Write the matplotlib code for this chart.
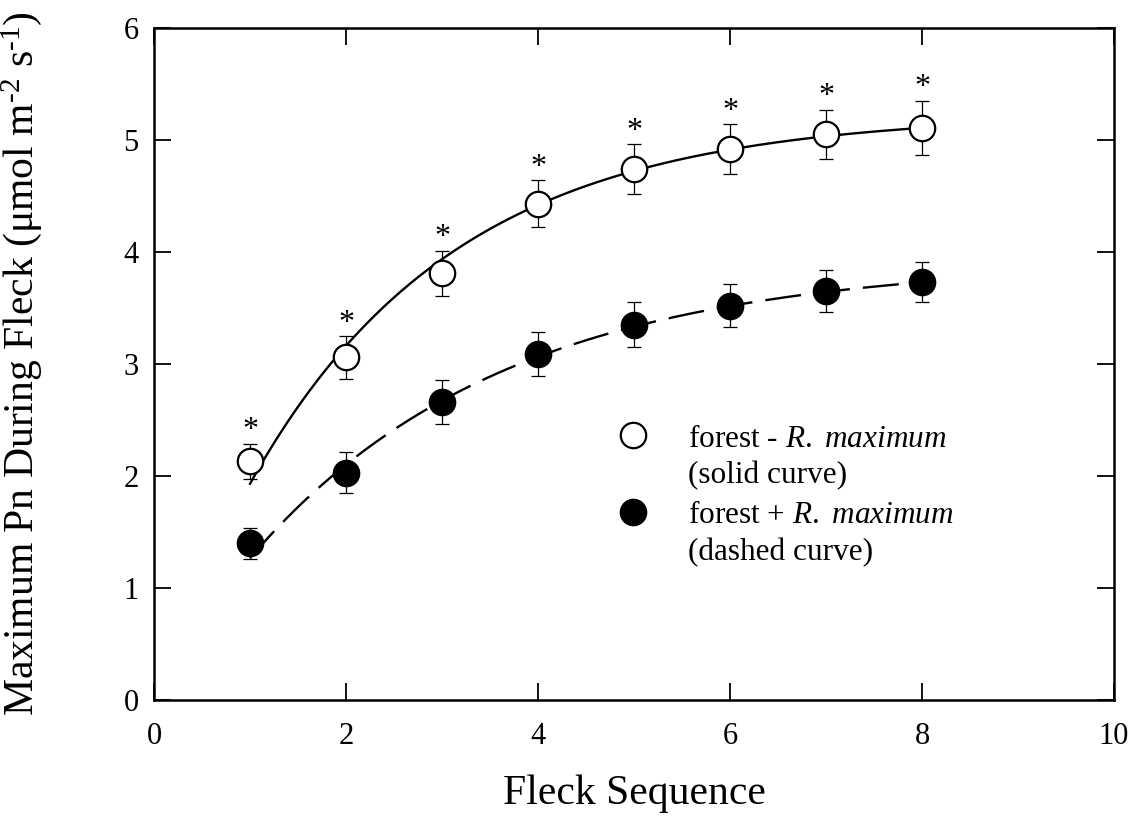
import numpy as np
import matplotlib
matplotlib.use("Agg")
import matplotlib.pyplot as plt

plt.rcParams['font.family'] = ['Liberation Serif', 'DejaVu Serif']
plt.rcParams['mathtext.fontset'] = 'custom'
plt.rcParams['mathtext.rm'] = 'Liberation Serif'
plt.rcParams['mathtext.it'] = 'Liberation Serif:italic'

# ---- data ----
fleck = [1, 2, 3, 4, 5, 6, 7, 8]
minus_mean = [2.13, 3.06, 3.81, 4.43, 4.74, 4.92, 5.05, 5.11]
minus_se = [0.16, 0.19, 0.20, 0.21, 0.22, 0.22, 0.22, 0.24]
plus_mean = [1.40, 2.03, 2.66, 3.09, 3.35, 3.52, 3.65, 3.73]
plus_se = [0.14, 0.18, 0.20, 0.20, 0.20, 0.19, 0.19, 0.18]
significant = [True, True, True, True, True, True, True, True]
# fitted curves y = A - B*exp(-k*x)
solid_fit = (5.234, 5.27, 0.467)
dashed_fit = (3.918, 3.869, 0.378)
x_ticks = [0, 2, 4, 6, 8, 10]
y_ticks = [0, 1, 2, 3, 4, 5, 6]

W, H = 1143, 825
fig = plt.figure(figsize=(W / 100, H / 100), dpi=100)
ax = fig.add_axes([154 / W, 1 - 700 / H, 960 / W, 672 / H])

xf = np.linspace(fleck[0], fleck[-1], 300)
def curve(p, x):
    A, B, k = p
    return A - B * np.exp(-k * x)

ax.plot(xf, curve(solid_fit, xf), color='black', lw=1.7, zorder=2)
ax.plot(xf, curve(dashed_fit, xf), color='black', lw=1.7, zorder=2,
        dashes=(26 / 1.7, 9.4 / 1.7))

ekw = dict(fmt='none', ecolor='black', elinewidth=0.9, capsize=4.7, capthick=0.9, zorder=3)
ax.errorbar(fleck, minus_mean, yerr=minus_se, **ekw)
ax.errorbar(fleck, plus_mean, yerr=plus_se, **ekw)

MS = 18.3
ax.plot(fleck, minus_mean, 'o', ms=MS, mfc='white', mec='black', mew=1.6, ls='none', zorder=4)
ax.plot(fleck, plus_mean, 'o', ms=MS, mfc='black', mec='black', mew=1.6, ls='none', zorder=4)

for xi, m, s, sig in zip(fleck, minus_mean, minus_se, significant):
    if sig:
        ax.annotate('*', (xi, m + s + 0.21), xytext=(0, -13), textcoords='offset points',
                    ha='center', va='baseline', fontsize=23, zorder=5)

# legend (drawn manually)
ax.plot([4.99], [2.366], 'o', ms=MS, mfc='white', mec='black', mew=1.6, zorder=4)
ax.plot([4.99], [1.679], 'o', ms=MS, mfc='black', mec='black', mew=1.6, zorder=4)
tx = 5.5625
LF = 22.5
ax.text(tx, 2.259, r'forest - $\mathit{R.}$ $\mathit{maximum}$', fontsize=LF, va='baseline', ha='left')
ax.text(tx, 1.938, '(solid curve)', fontsize=LF, va='baseline', ha='left')
ax.text(tx, 1.577, r'forest + $\mathit{R.}$ $\mathit{maximum}$', fontsize=LF, va='baseline', ha='left')
ax.text(tx, 1.250, '(dashed curve)', fontsize=LF, va='baseline', ha='left')

ax.set_xlim(0, 10)
ax.set_ylim(0, 6)
ax.set_xticks(x_ticks)
ax.set_yticks(y_ticks)
ax.tick_params(direction='in', top=True, right=True, length=12, width=1.3,
               labelsize=22)
ax.tick_params(axis='x', pad=16)
ax.tick_params(axis='y', pad=11)
for sp in ax.spines.values():
    sp.set_linewidth(1.8)

fig.text(634 / W, 1 - 804 / H, 'Fleck Sequence', fontsize=30, ha='center', va='baseline')
fig.text(33 / W, 1 - 364 / H, 'Maximum Pn During Fleck (μmol m$^{\u20102}$ s$^{\u20101}$)',
         fontsize=30, rotation=90, rotation_mode='anchor', ha='center', va='baseline')

fig.savefig('out.png', dpi=100)
